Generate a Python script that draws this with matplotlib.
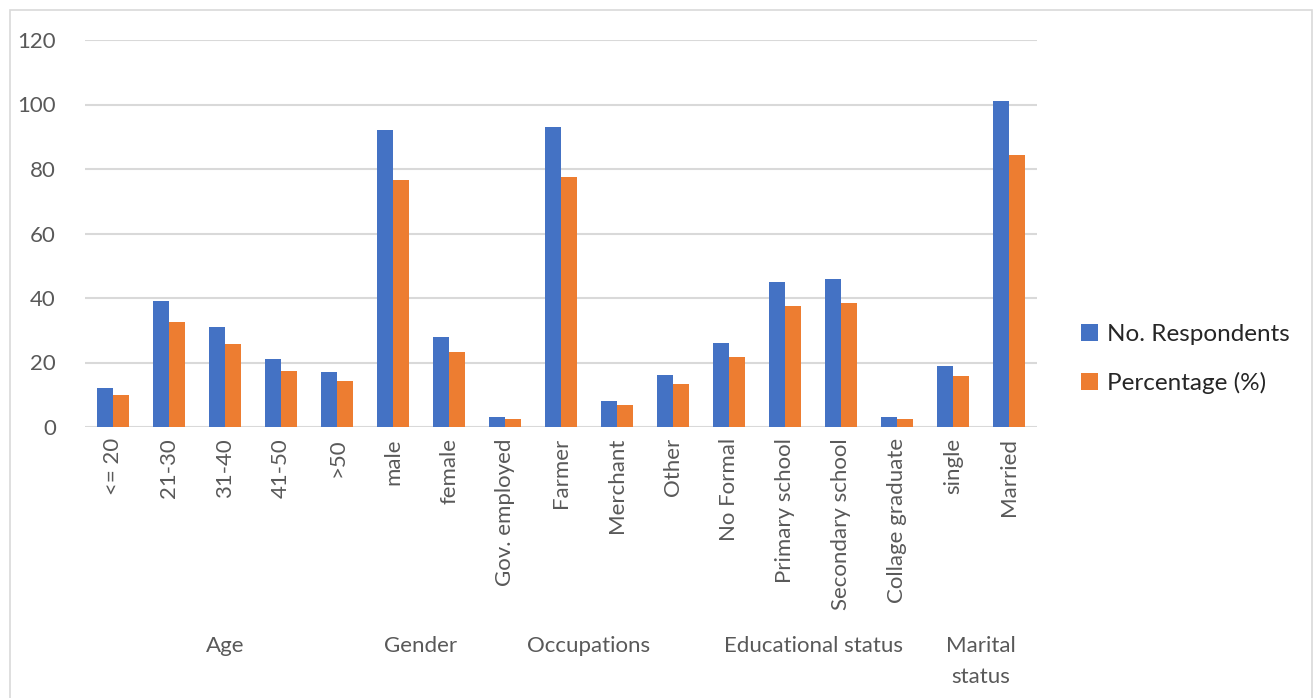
import matplotlib.pyplot as plt
import numpy as np
from matplotlib.patches import Rectangle

plt.rcParams["font.family"] = ["Lato", "DejaVu Sans"]

categories = ["<= 20", "21-30", "31-40", "41-50", ">50",
              "male", "female",
              "Gov. employed", "Farmer", "Merchant", "Other",
              "No Formal", "Primary school", "Secondary school", "Collage graduate",
              "single", "Married"]
groups = ["Age", "Gender", "Occupations", "Educational status", "Marital\nstatus"]
group_sizes = [5, 2, 4, 4, 2]

respondents = [12, 39, 31, 21, 17, 92, 28, 3, 93, 8, 16, 26, 45, 46, 3, 19, 101]
percentage = [10.0, 32.5, 25.8, 17.5, 14.2, 76.7, 23.3, 2.5, 77.5, 6.7, 13.3,
              21.7, 37.5, 38.3, 2.5, 15.8, 84.2]

blue = "#4472C4"
orange = "#ED7D31"
grid_c = "#D9D9D9"
text_c = "#595959"

W, H = 1316, 698
fig = plt.figure(figsize=(W / 100, H / 100), dpi=100)
ax = fig.add_axes([85 / W, 1 - 427 / H, (1037 - 85) / W, (427 - 40) / H])

x = np.arange(len(categories))
bw = 0.285
ax.bar(x - bw / 2, respondents, bw, color=blue, label="No. Respondents", zorder=3)
ax.bar(x + bw / 2, percentage, bw, color=orange, label="Percentage (%)", zorder=3)

ax.set_xlim(-0.5, len(categories) - 0.5)
ax.set_ylim(0, 120)
ax.set_yticks(range(0, 121, 20))
ax.yaxis.grid(True, color=grid_c, lw=1.5, zorder=0)
for s in ax.spines.values():
    s.set_visible(False)
ax.tick_params(axis="y", length=0, pad=21, labelsize=16, labelcolor=text_c)
ax.set_xticks(x)
ax.set_xticklabels(categories, rotation=90, fontsize=16, color=text_c)
ax.tick_params(axis="x", length=0, pad=8)

# group labels under the category labels
start = 0
for g, n in zip(groups, group_sizes):
    centre = start + (n - 1) / 2
    ax.text(centre, -(636 - 427) / (427 - 40), g, transform=ax.get_xaxis_transform(),
            ha="center", va="top", fontsize=16, color=text_c, linespacing=1.7)
    start += n

leg = fig.legend(loc="center left", bbox_to_anchor=(1071 / W, 1 - 359 / H), frameon=False,
                 fontsize=17.5, handlelength=0.7, handleheight=0.7, handletextpad=0.4,
                 labelspacing=1.1, borderaxespad=0)
for t in leg.get_texts():
    t.set_color("#262626")

fig.add_artist(Rectangle((10 / W, -0.01), (1312 - 10) / W, 1.01 - 10 / H,
                         transform=fig.transFigure, fill=False, ec=grid_c, lw=1.2))

fig.savefig("out.png", dpi=100)
